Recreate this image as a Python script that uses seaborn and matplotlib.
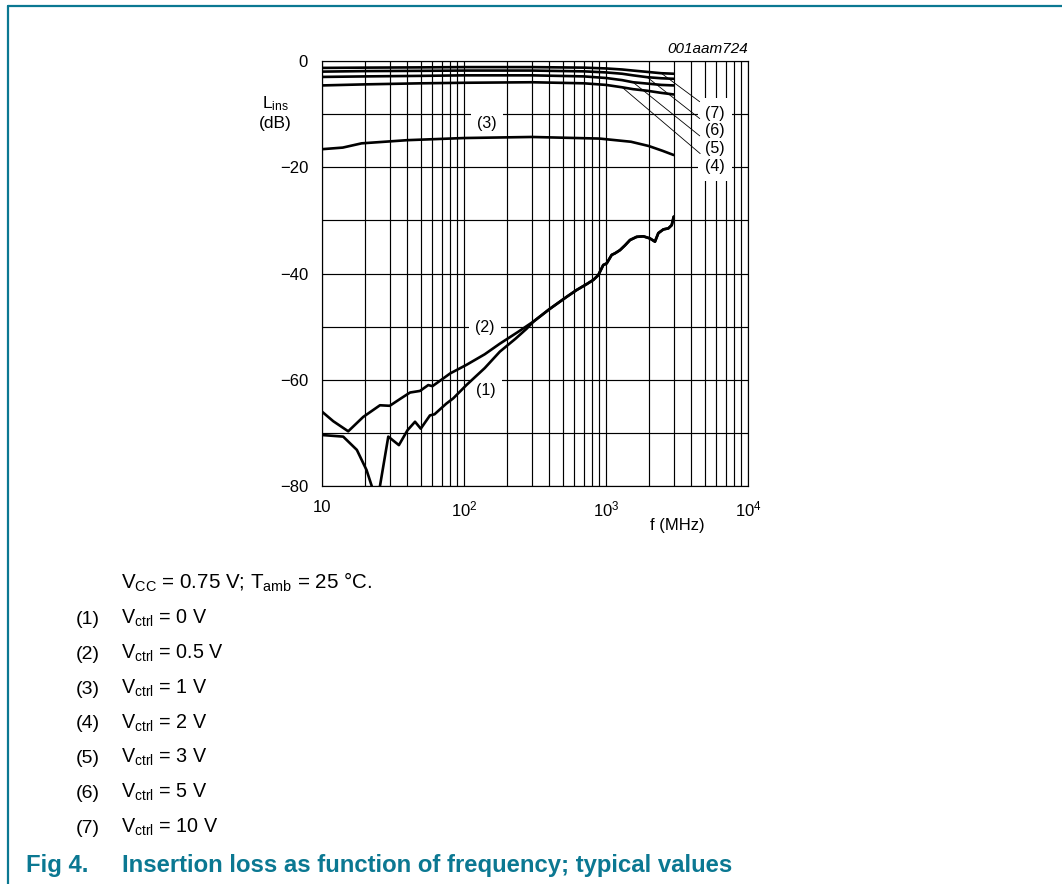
#!/usr/bin/env python3
import numpy as np
import pandas as pd
import seaborn as sns
import matplotlib.pyplot as plt
from matplotlib.lines import Line2D
from matplotlib.ticker import LogLocator, FixedLocator, NullFormatter

# ---------- Data ----------
# curves (4)..(7): near 0 dB
F_TOP = [10, 20, 50, 100, 300, 700, 1000, 1300, 1550, 1950, 2450, 3000]
L7 = [-1.3, -1.25, -1.2, -1.15, -1.15, -1.25, -1.4, -1.6, -1.8, -2.05, -2.3, -2.4]
L6 = [-2.0, -1.9, -1.85, -1.8, -1.8, -1.95, -2.15, -2.4, -2.7, -3.05, -3.25, -3.35]
L5 = [-3.0, -2.9, -2.8, -2.7, -2.7, -2.9, -3.2, -3.6, -4.0, -4.25, -4.5, -4.6]
L4 = [-4.6, -4.4, -4.2, -4.1, -4.0, -4.2, -4.5, -4.95, -5.3, -5.6, -6.0, -6.3]

# curve (3)
F3 = [10, 14, 19, 40, 100, 300, 900, 1500, 2000, 2500, 3000]
L3 = [-16.6, -16.3, -15.5, -14.9, -14.5, -14.3, -14.6, -15.2, -16.0, -16.9, -17.7]

# curve (1), low-frequency part
F1_LOW = [10, 14.1, 17.6, 20.6, 22.4, 24, 25.6, 29.3, 34.8, 40, 45.2, 49.6, 57.6, 62,
          75, 84, 104, 140, 179, 230, 276, 310]
L1_LOW = [-70.4, -70.7, -73.2, -77.0, -80.0, -84.0, -80.0, -70.7, -72.3, -69.5, -67.9,
          -69.2, -66.7, -66.5, -64.5, -63.5, -61.0, -57.8, -54.7, -52.3, -50.4, -49.0]

# curve (2), low-frequency part
F2_LOW = [10, 12, 15.3, 19.5, 25.6, 30, 36, 41.7, 49, 56, 60, 71, 80, 104, 140, 179, 240, 310]
L2_LOW = [-66.0, -67.8, -69.7, -67.0, -64.8, -64.9, -63.5, -62.4, -62.1, -61.0, -61.2,
          -59.8, -58.8, -57.2, -55.2, -53.2, -51.0, -49.0]

# shared tail of (1) and (2)
F_TAIL = [400, 528, 622, 731, 815, 883, 957, 1011, 1097, 1157, 1255, 1361, 1476, 1644,
          1833, 2042, 2213, 2337, 2536, 2750, 2903, 3000]
L_TAIL = [-46.7, -44.4, -43.1, -42.0, -41.2, -40.3, -38.4, -38.1, -36.5, -36.2, -35.6,
          -34.7, -33.7, -33.1, -33.0, -33.4, -34.0, -32.4, -31.7, -31.5, -30.9, -29.3]

CURVES = {
    "(1)": (F1_LOW + F_TAIL, L1_LOW + L_TAIL),
    "(2)": (F2_LOW + F_TAIL, L2_LOW + L_TAIL),
    "(3)": (F3, L3),
    "(4)": (F_TOP, L4),
    "(5)": (F_TOP, L5),
    "(6)": (F_TOP, L6),
    "(7)": (F_TOP, L7),
}

# in-plot labels: (label, text position)
INLINE_LABELS = [("(3)", 145, -11.7), ("(2)", 141, -50.1), ("(1)", 143, -62.0)]
# labels with leader lines: (label, point on curve, text position)
LEADER_LABELS = [
    ("(7)", (2450, -2.3), (5860, -9.8)),
    ("(6)", (1950, -3.05), (5860, -13.1)),
    ("(5)", (1550, -4.0), (5860, -16.4)),
    ("(4)", (1300, -4.95), (5860, -19.8)),
]

LEGEND = [
    ("(1)", "0 V"), ("(2)", "0.5 V"), ("(3)", "1 V"), ("(4)", "2 V"),
    ("(5)", "3 V"), ("(6)", "5 V"), ("(7)", "10 V"),
]

TEAL = "#0b7892"


def main() -> int:
    sns.set_style("white")
    plt.rcParams["font.family"] = ["Liberation Sans", "DejaVu Sans"]
    plt.rcParams["mathtext.fontset"] = "custom"
    plt.rcParams["mathtext.rm"] = "Liberation Sans"
    plt.rcParams["mathtext.it"] = "Liberation Sans:italic"
    plt.rcParams["mathtext.bf"] = "Liberation Sans:bold"
    for key in ("text.color", "axes.labelcolor", "xtick.color", "ytick.color"):
        plt.rcParams[key] = "black"

    fig = plt.figure(figsize=(10.62, 8.84), dpi=100)
    ax = fig.add_axes([0.3032, 0.4502, 0.4011, 0.4808])

    # ---------- curves ----------
    for name, (f, l) in CURVES.items():
        df = pd.DataFrame({"f": f, "L": l})
        sns.lineplot(data=df, x="f", y="L", ax=ax, color="black", lw=1.9,
                     estimator=None, sort=False, zorder=4)

    ax.set_xscale("log")
    ax.set_xlim(10, 1e4)
    ax.set_ylim(-80, 0)

    # ---------- grid ----------
    ax.xaxis.set_major_locator(FixedLocator([10, 100, 1000, 10000]))
    ax.xaxis.set_minor_locator(LogLocator(base=10, subs=np.arange(2, 10)))
    ax.xaxis.set_minor_formatter(NullFormatter())
    ax.set_xticklabels(["10", "10$^2$", "10$^3$", "10$^4$"])
    ax.yaxis.set_major_locator(FixedLocator([0, -20, -40, -60, -80]))
    ax.yaxis.set_minor_locator(FixedLocator([-10, -30, -50, -70]))
    ax.set_yticklabels(["0", "\u221220", "\u221240", "\u221260", "\u221280"])
    ax.grid(True, which="both", color="black", lw=0.85, zorder=1)
    ax.set_axisbelow(True)
    ax.tick_params(which="both", length=0, labelsize=12, colors="black")
    ax.tick_params(axis="x", pad=10)
    ax.tick_params(axis="y", pad=10)
    for sp in ax.spines.values():
        sp.set_color("black")
        sp.set_linewidth(0.85)
    ax.set_xlabel("")
    ax.set_ylabel("")

    # ---------- labels ----------
    # white boxes first (they cut the grid), then the text on top
    for lab, x, y in INLINE_LABELS:
        ax.text(x, y, lab, ha="center", va="center", fontsize=11.5, color="none",
                bbox=dict(boxstyle="square,pad=0.4", fc="white", ec="none"), zorder=2)
        ax.text(x, y, lab, ha="center", va="center", fontsize=11.5, zorder=3)
    for lab, (x0, y0), (x1, y1) in LEADER_LABELS:
        ax.text(x1, y1, lab, ha="center", va="center", fontsize=11.5, color="none",
                bbox=dict(boxstyle="square,pad=0.45", fc="white", ec="none"), zorder=2)
        ax.annotate(lab, xy=(x0, y0), xytext=(x1, y1), ha="center", va="center",
                    fontsize=11.5, zorder=3,
                    arrowprops=dict(arrowstyle="-", color="black", lw=0.6,
                                    shrinkA=2, shrinkB=0))

    ax.text(-0.11, 0.878, "L$_{\\mathrm{ins}}$\n(dB)", transform=ax.transAxes,
            ha="center", va="center", fontsize=12.5, linespacing=1.25)
    ax.text(0.833, -0.094, "f (MHz)", transform=ax.transAxes,
            ha="center", va="center", fontsize=12)
    ax.text(1.0, 1.012, "001aam724", transform=ax.transAxes, ha="right",
            va="bottom", fontsize=11, style="italic")

    # ---------- conditions / legend below ----------
    W, H = 1062.0, 884.0
    fig.text(121 / W, 1 - 589 / H,
             "V$_{\\mathrm{CC}}$ = 0.75 V; T$_{\\mathrm{amb}}$ = 25 \u00b0C.",
             ha="left", va="baseline", fontsize=14.8)
    for i, (num, val) in enumerate(LEGEND):
        yb = 1 - (624 + 34.8 * i) / H
        fig.text(76 / W, yb, num, ha="left", va="baseline", fontsize=14)
        fig.text(121 / W, yb, "V$_{\\mathrm{ctrl}}$ = " + val, ha="left",
                 va="baseline", fontsize=14.2)

    fig.text(26 / W, 1 - 872 / H, "Fig 4.", ha="left", va="baseline",
             fontsize=17.2, weight="bold", color=TEAL)
    fig.text(122 / W, 1 - 872 / H,
             "Insertion loss as function of frequency; typical values",
             ha="left", va="baseline", fontsize=17.2, weight="bold", color=TEAL)

    # frame lines (top and left)
    fig.add_artist(Line2D([8 / W, 1.0], [1 - 6 / H, 1 - 6 / H], transform=fig.transFigure,
                          color=TEAL, lw=1.6))
    fig.add_artist(Line2D([8 / W, 8 / W], [0.0, 1 - 6 / H], transform=fig.transFigure,
                          color=TEAL, lw=1.6))

    fig.savefig("out.png", dpi=100)
    plt.close(fig)
    return 0


if __name__ == "__main__":
    raise SystemExit(main())
